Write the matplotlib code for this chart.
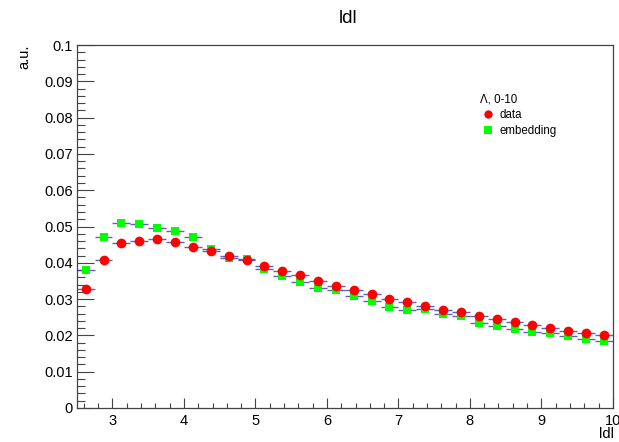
import numpy as np
import matplotlib
matplotlib.use('Agg')
import matplotlib.pyplot as plt
from matplotlib.ticker import MultipleLocator, FuncFormatter
from matplotlib.lines import Line2D

plt.rcParams['font.family'] = ['Liberation Sans', 'DejaVu Sans']

# binning: 30 bins of width 0.25 from 2.5 to 10
bin_edges = np.arange(2.5, 10.0001, 0.25)
bin_centers = 0.5 * (bin_edges[:-1] + bin_edges[1:])

# values (a.u.)
data_vals = [0.0328, 0.0408, 0.0455, 0.0460, 0.0465, 0.0456, 0.0444, 0.0433, 0.0420, 0.0407,
             0.0392, 0.0378, 0.0366, 0.0350, 0.0337, 0.0324, 0.0314, 0.0301, 0.0292, 0.0281,
             0.0270, 0.0264, 0.0253, 0.0245, 0.0237, 0.0229, 0.0221, 0.0213, 0.0206, 0.0201]
embed_vals = [0.0381, 0.0471, 0.0510, 0.0506, 0.0497, 0.0487, 0.0471, 0.0437, 0.0412, 0.0410,
              0.0382, 0.0364, 0.0348, 0.0330, 0.0325, 0.0308, 0.0296, 0.0277, 0.0269, 0.0272,
              0.0258, 0.0253, 0.0233, 0.0226, 0.0218, 0.0210, 0.0206, 0.0198, 0.0190, 0.0185]

fig = plt.figure(figsize=(6.19, 4.42), dpi=100)
ax = fig.add_axes([0.124, 0.077, 0.866, 0.821])

half_w = 0.125
bar_col = '#3a3aa8'

# embedding first, data on top
ax.errorbar(bin_centers, embed_vals, xerr=half_w, fmt='none', ecolor=bar_col, elinewidth=1.0, alpha=0.8)
ax.plot(bin_centers, embed_vals, 's', color='#00ff00', markersize=6.3, markeredgewidth=0, zorder=3)
ax.errorbar(bin_centers, data_vals, xerr=half_w, fmt='none', ecolor=bar_col, elinewidth=1.0, alpha=0.8)
ax.plot(bin_centers, data_vals, 'o', color='#ff0000', markersize=7, markeredgewidth=0, zorder=4)

ax.set_xlim(2.5, 10)
ax.set_ylim(0, 0.1)

ax.xaxis.set_major_locator(MultipleLocator(1))
ax.xaxis.set_minor_locator(MultipleLocator(0.2))
ax.yaxis.set_major_locator(MultipleLocator(0.01))
ax.yaxis.set_minor_locator(MultipleLocator(0.002))
ax.yaxis.set_major_formatter(FuncFormatter(lambda v, _: '%g' % round(v, 4)))
ax.xaxis.set_major_formatter(FuncFormatter(lambda v, _: '%g' % v))

ax.tick_params(axis='x', which='major', direction='in', length=7.2, width=0.8, color='#444444',
               labelsize=10.5, pad=4)
ax.tick_params(axis='x', which='minor', direction='in', length=3.6, width=0.8, color='#444444')
ax.tick_params(axis='y', which='major', direction='in', length=12, width=0.8, color='#444444',
               labelsize=10.5, pad=3)
ax.tick_params(axis='y', which='minor', direction='in', length=6, width=0.8, color='#444444')
for s in ax.spines.values():
    s.set_color('#444444')
    s.set_linewidth(0.9)

fig.text(0.562, 0.958, 'ldl', ha='center', va='center', fontsize=13.5)
fig.text(0.040, 0.898, 'a.u.', rotation=90, ha='center', va='top', fontsize=10.5)
fig.text(0.979, 0.018, 'ldl', ha='center', va='center', fontsize=10.5)

# legend
handles = [Line2D([], [], marker='o', color='#ff0000', ls='none', markersize=6, markeredgewidth=0),
           Line2D([], [], marker='s', color='#00ff00', ls='none', markersize=5.5, markeredgewidth=0)]
leg = ax.legend(handles, ['data', 'embedding'], title='Λ, 0-10', loc='upper left',
                bbox_to_anchor=(0.737, 0.888), frameon=False, fontsize=8.3, title_fontsize=8.3,
                handlelength=1.4, handletextpad=0.3, labelspacing=0.3, borderpad=0.2)
leg._legend_box.align = 'left'

fig.savefig('out.png', dpi=100)
